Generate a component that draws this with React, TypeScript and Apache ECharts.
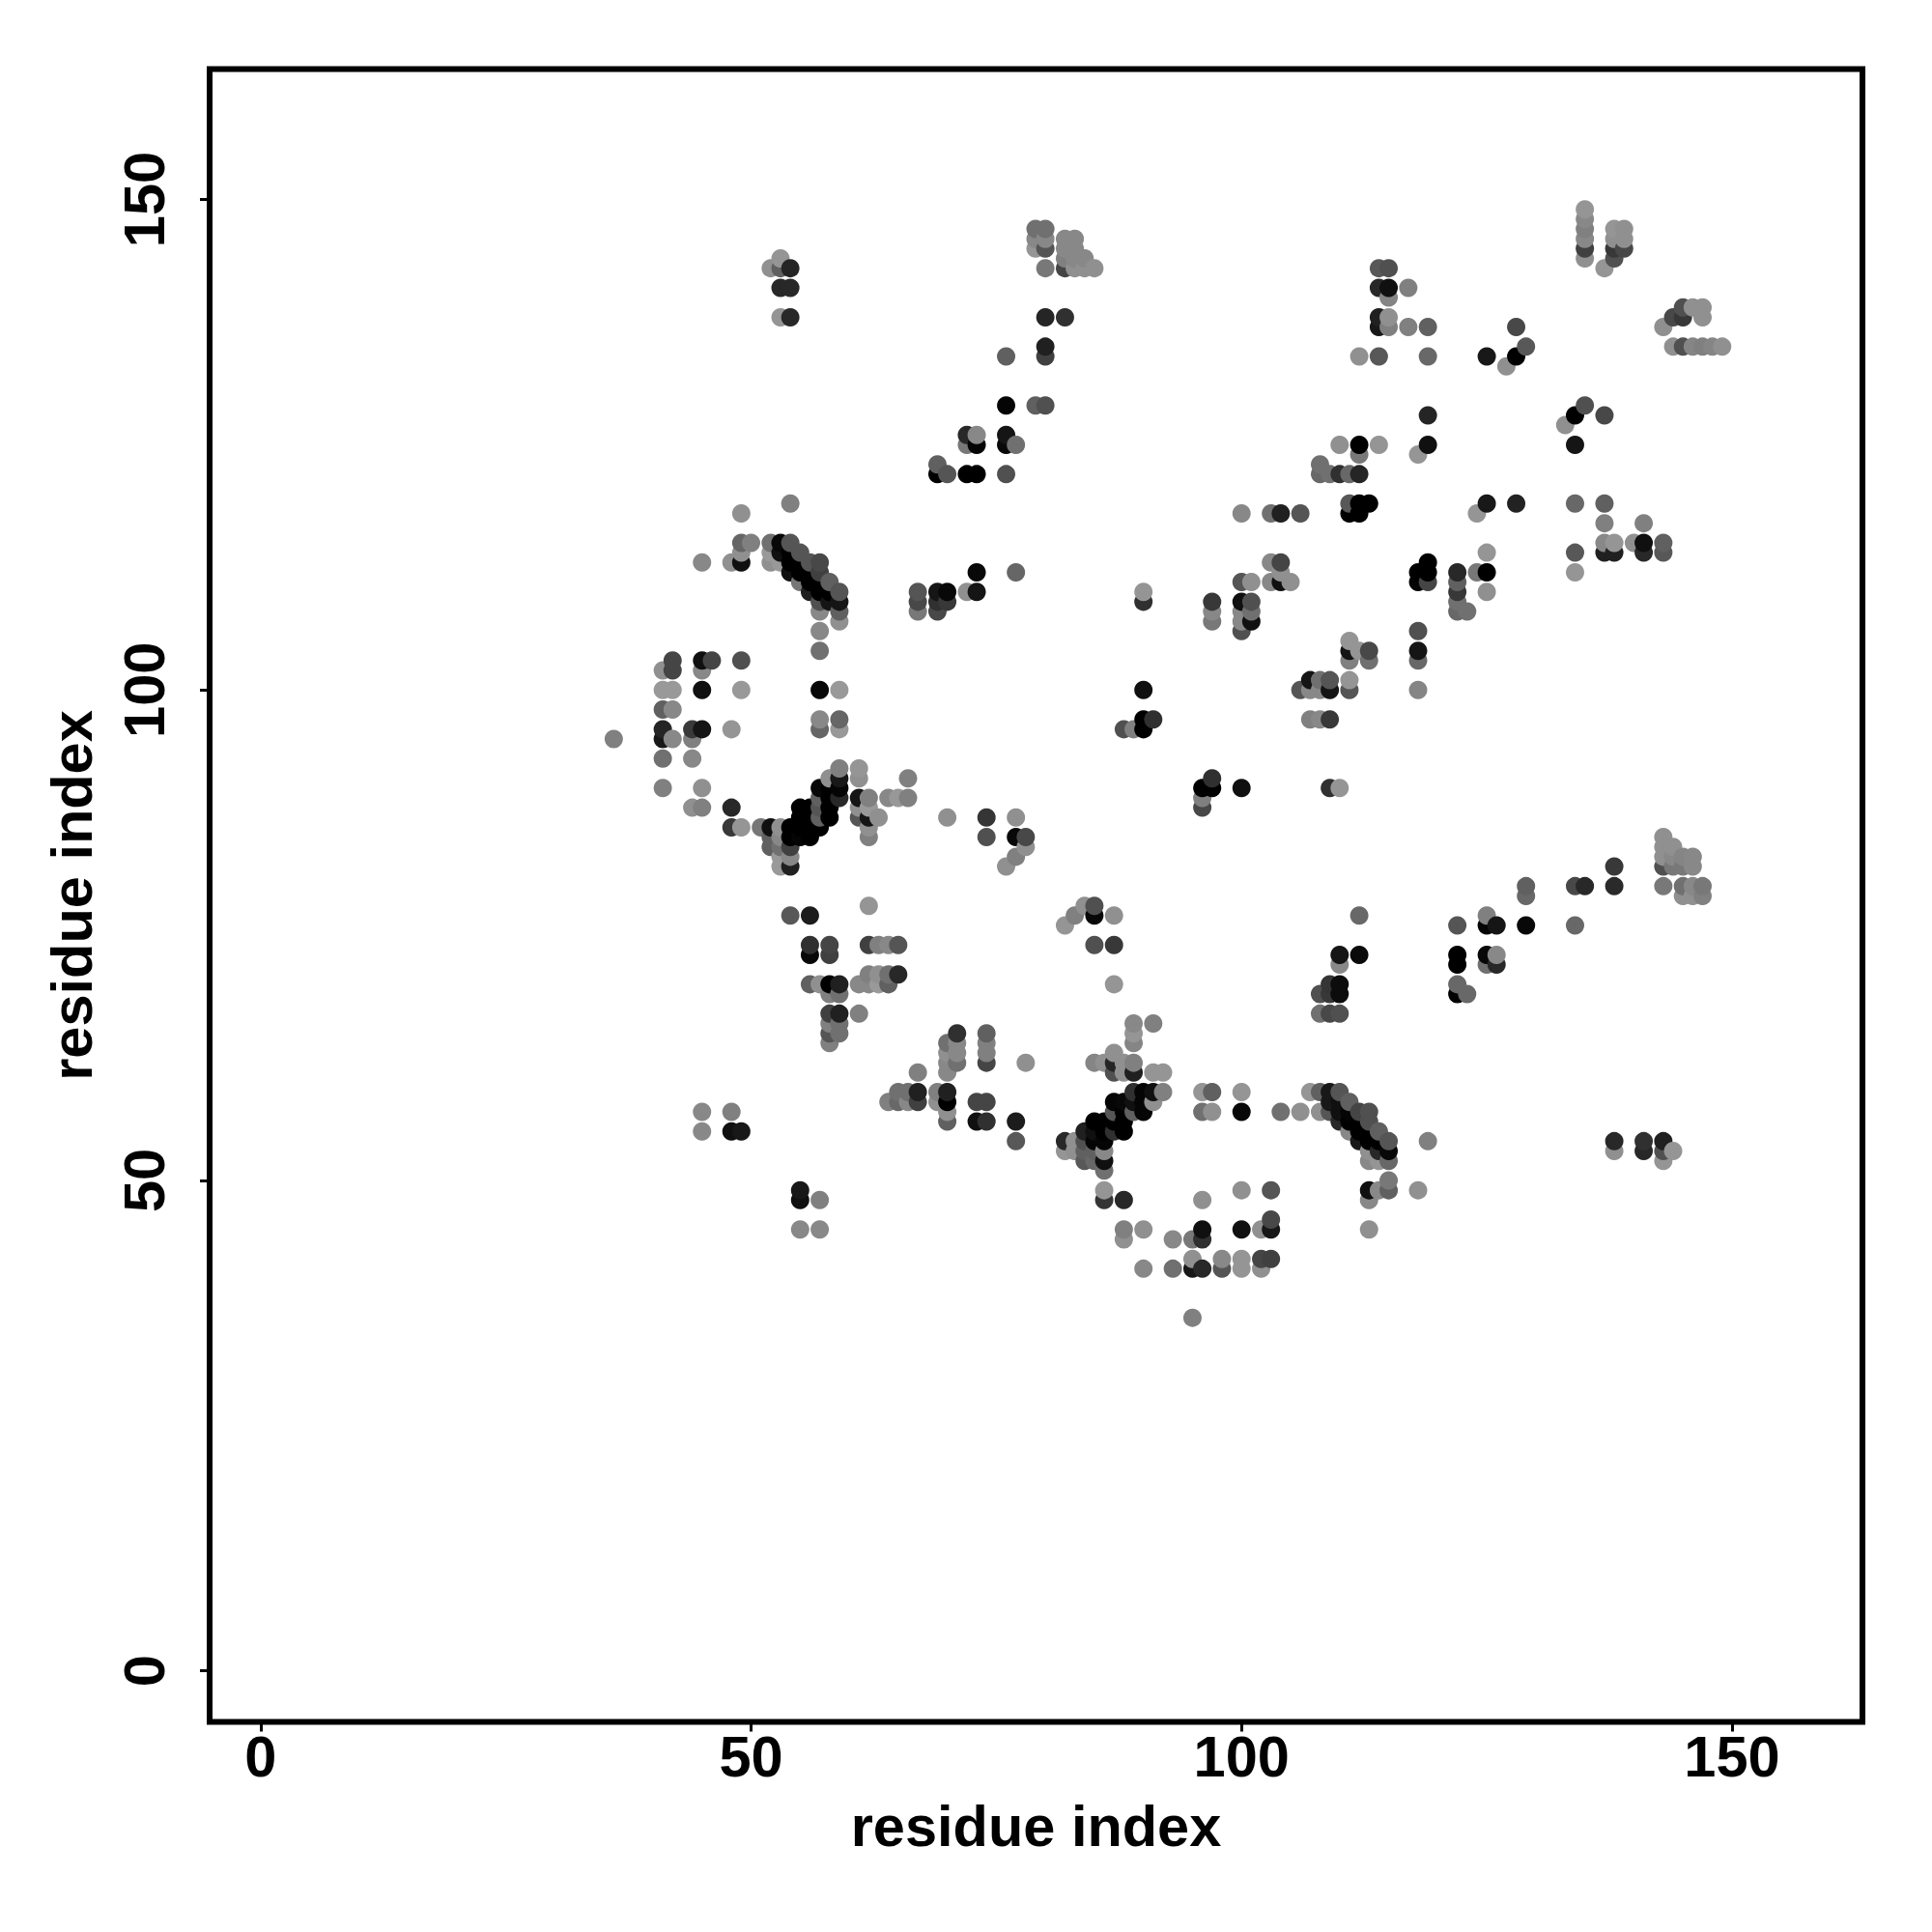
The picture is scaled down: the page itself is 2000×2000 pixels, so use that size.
import React, { useEffect, useRef } from "react";
import * as echarts from "echarts";

// [x residue, y residue, grey level]
const contacts: number[][] = [
  [36,95,0x80],[41,102,0x90],[41,100,0x99],[41,98,0x60],[41,96,0x25],[41,95,0x18],[41,93,0x70],[41,90,0x80],
  [42,103,0x45],[42,102,0x45],[42,100,0x99],[42,98,0x88],[42,95,0x88],
  [44,96,0x3a],[44,95,0x80],[44,93,0x88],[44,88,0x90],
  [45,113,0x88],[45,103,0x10],[45,102,0x88],[45,100,0x10],[45,96,0x15],[45,90,0x90],[45,88,0x80],[45,57,0x88],[45,55,0x88],
  [46,103,0x45],
  [48,113,0x90],[48,96,0x95],[48,88,0x28],[48,86,0x38],[48,57,0x80],[48,55,0x10],
  [49,118,0x90],[49,115,0x66],[49,114,0x90],[49,113,0x10],[49,103,0x50],[49,100,0x99],[49,86,0x95],[49,55,0x18],
  [50,115,0x80],
  [51,86,0x77],
  [52,143,0x90],[52,115,0x70],[52,114,0x99],[52,113,0x90],[52,86,0x10],[52,85,0x60],[52,84,0x60],
  [53,144,0x95],[53,143,0x60],[53,141,0x28],[53,138,0x95],[53,115,0x08],[53,114,0x10],[53,113,0x99],[53,86,0x90],[53,85,0x88],[53,84,0x70],[53,83,0x99],[53,82,0x99],
  [54,143,0x25],[54,141,0x28],[54,138,0x28],[54,119,0x80],[54,115,0x55],[54,114,0x00],[54,113,0x00],[54,112,0x10],[54,86,0x00],[54,85,0x00],[54,84,0x40],[54,83,0x88],[54,82,0x20],[54,77,0x58],
  [55,114,0x55],[55,113,0x00],[55,112,0x00],[55,111,0x77],[55,88,0x00],[55,87,0x00],[55,86,0x00],[55,85,0x05],[55,49,0x18],[55,48,0x10],[55,45,0x88],
  [56,113,0x55],[56,112,0x00],[56,111,0x00],[56,110,0x20],[56,88,0x00],[56,87,0x00],[56,86,0x00],[56,85,0x00],[56,77,0x1c],[56,74,0x30],[56,73,0x08],[56,70,0x60],
  [57,113,0x48],[57,112,0x40],[57,111,0x00],[57,110,0x00],[57,109,0x50],[57,108,0x88],[57,106,0x88],[57,104,0x70],[57,100,0x08],[57,97,0x88],[57,96,0x66],[57,90,0x08],[57,89,0x60],[57,88,0x55],[57,87,0x60],[57,86,0x00],[57,70,0x90],[57,48,0x80],[57,45,0x88],
  [58,111,0x60],[58,110,0x00],[58,109,0x15],[58,91,0x90],[58,90,0x00],[58,89,0x00],[58,88,0x00],[58,87,0x00],[58,74,0x45],[58,73,0x40],[58,70,0x00],[58,69,0x80],[58,67,0x40],[58,66,0x80],[58,65,0x55],[58,64,0x80],
  [59,110,0x55],[59,109,0x15],[59,108,0x60],[59,107,0x90],[59,100,0x99],[59,97,0x66],[59,96,0x99],[59,92,0x80],[59,91,0x18],[59,90,0x05],[59,89,0x28],[59,70,0x20],[59,69,0x70],[59,67,0x20],[59,66,0x70],[59,65,0x70],
  [61,92,0x95],[61,91,0x90],[61,89,0x15],[61,88,0x90],[61,87,0x55],[61,70,0x88],[61,67,0x80],
  [62,89,0x80],[62,88,0x99],[62,87,0x15],[62,86,0x90],[62,85,0x80],[62,78,0x95],[62,74,0x40],[62,71,0x80],[62,70,0x88],
  [63,87,0x90],[63,74,0x80],[63,71,0x90],[63,70,0x99],
  [64,89,0x88],[64,74,0x88],[64,71,0x70],[64,70,0x60],[64,58,0x80],
  [65,89,0x98],[65,74,0x55],[65,71,0x28],[65,59,0x70],[65,58,0x68],
  [66,91,0x80],[66,89,0x80],[66,59,0x70],[66,58,0x88],
  [67,110,0x55],[67,109,0x48],[67,108,0x78],[67,61,0x80],[67,59,0x20],[67,58,0x40],
  [69,123,0x60],[69,122,0x00],[69,110,0x15],[69,109,0x30],[69,108,0x48],[69,59,0x80],[69,58,0x90],
  [70,122,0x55],[70,110,0x08],[70,109,0x38],[70,87,0x90],[70,64,0x70],[70,63,0x90],[70,62,0x88],[70,61,0x88],[70,59,0x20],[70,58,0x00],[70,57,0x90],[70,56,0x60],
  [71,65,0x30],[71,64,0x88],[71,63,0x88],[71,62,0x70],
  [72,126,0x28],[72,125,0x78],[72,122,0x00],[72,110,0x90],
  [73,126,0x88],[73,125,0x05],[73,122,0x00],[73,112,0x08],[73,110,0x15],[73,58,0x45],[73,56,0x10],
  [74,87,0x35],[74,85,0x50],[74,65,0x60],[74,64,0x80],[74,63,0x80],[74,62,0x45],[74,58,0x45],[74,56,0x30],
  [76,134,0x60],[76,129,0x05],[76,126,0x15],[76,125,0x08],[76,122,0x50],[76,82,0x90],
  [77,125,0x70],[77,112,0x66],[77,87,0x90],[77,85,0x08],[77,83,0x80],[77,56,0x1c],[77,54,0x58],
  [78,85,0x48],[78,84,0x90],[78,62,0x90],
  [79,147,0x70],[79,146,0x88],[79,145,0x95],[79,129,0x60],
  [80,147,0x70],[80,146,0x88],[80,145,0x55],[80,143,0x78],[80,138,0x25],[80,135,0x20],[80,134,0x40],[80,129,0x50],
  [82,146,0x88],[82,145,0x88],[82,144,0x80],[82,143,0x45],[82,138,0x30],[82,76,0x95],[82,54,0x28],[82,53,0x95],
  [83,146,0x88],[83,145,0x88],[83,144,0x88],[83,143,0x90],[83,77,0x80],[83,54,0x90],[83,53,0x90],
  [84,144,0x88],[84,143,0x90],[84,78,0x90],[84,55,0x20],[84,54,0x50],[84,53,0x60],[84,52,0x58],
  [85,143,0x90],[85,78,0x50],[85,77,0x08],[85,74,0x50],[85,62,0x85],[85,56,0x00],[85,55,0x10],[85,54,0x05],[85,53,0x60],[85,52,0x68],
  [86,62,0x90],[86,56,0x00],[86,55,0x00],[86,54,0x05],[86,53,0x88],[86,52,0x10],[86,51,0x70],[86,49,0x95],[86,48,0x35],
  [87,77,0x90],[87,74,0x38],[87,70,0x95],[87,63,0x90],[87,62,0x25],[87,61,0x50],[87,58,0x05],[87,57,0x55],[87,56,0x00],[87,55,0x30],
  [88,96,0x50],[88,62,0x90],[88,61,0x90],[88,58,0x08],[88,57,0x00],[88,56,0x00],[88,55,0x00],[88,48,0x28],[88,45,0x80],[88,44,0x90],
  [89,96,0x80],[89,66,0x88],[89,65,0x95],[89,64,0x85],[89,62,0x80],[89,61,0x20],[89,59,0x30],[89,58,0x10],[89,57,0x60],
  [90,110,0x95],[90,109,0x30],[90,100,0x10],[90,97,0x00],[90,96,0x00],[90,59,0x05],[90,58,0x05],[90,57,0x05],[90,45,0x90],[90,41,0x88],
  [91,97,0x30],[91,66,0x80],[91,61,0x95],[91,59,0x10],[91,58,0x90],
  [92,61,0x95],[92,59,0x80],
  [93,44,0x88],[93,41,0x70],
  [95,44,0x78],[95,42,0x90],[95,41,0x18],[95,36,0x80],
  [96,90,0x00],[96,89,0x80],[96,88,0x48],[96,59,0x95],[96,57,0x70],[96,48,0x90],[96,45,0x10],[96,44,0x30],[96,41,0x28],
  [97,109,0x38],[97,108,0x88],[97,107,0x78],[97,91,0x30],[97,90,0x00],[97,59,0x60],[97,57,0x90],
  [98,42,0x88],[98,41,0x55],
  [100,118,0x88],[100,111,0x55],[100,109,0x10],[100,108,0x88],[100,107,0x88],[100,106,0x50],[100,90,0x10],[100,59,0x95],[100,57,0x08],[100,49,0x90],[100,45,0x10],[100,42,0x95],[100,41,0x95],
  [101,111,0x90],[101,109,0x50],[101,108,0x70],[101,107,0x10],
  [102,45,0x90],[102,42,0x45],[102,41,0x90],
  [103,118,0x70],[103,113,0x88],[103,111,0x88],[103,49,0x55],[103,46,0x48],[103,45,0x18],[103,42,0x40],
  [104,118,0x20],[104,113,0x45],[104,112,0x90],[104,111,0x10],[104,57,0x70],
  [105,111,0x90],
  [106,118,0x55],[106,100,0x55],[106,57,0x90],
  [107,101,0x15],[107,100,0x88],[107,97,0x80],[107,59,0x95],
  [108,123,0x70],[108,122,0x68],[108,101,0x70],[108,100,0x88],[108,97,0x88],[108,69,0x50],[108,67,0x70],[108,59,0x60],[108,57,0x90],
  [109,122,0x70],[109,101,0x55],[109,100,0x15],[109,97,0x38],[109,90,0x30],[109,70,0x35],[109,69,0x38],[109,67,0x48],[109,59,0x18],[109,58,0x18],[109,57,0x55],
  [110,125,0x90],[110,122,0x30],[110,90,0x95],[110,73,0x15],[110,72,0x88],[110,70,0x0c],[110,69,0x0c],[110,67,0x50],[110,59,0x55],[110,58,0x10],[110,57,0x10],[110,56,0x28],
  [111,122,0x68],[111,119,0x58],[111,118,0x00],[111,105,0x95],[111,104,0x15],[111,103,0x80],[111,101,0x95],[111,100,0x55],[111,58,0x60],[111,57,0x05],[111,56,0x00],[111,55,0x88],
  [112,134,0x90],[112,125,0x00],[112,124,0x78],[112,122,0x25],[112,119,0x00],[112,118,0x00],[112,104,0x95],[112,77,0x68],[112,73,0x0a],[112,57,0x45],[112,56,0x00],[112,55,0x00],[112,54,0x18],
  [113,119,0x00],[113,104,0x48],[113,103,0x70],[113,57,0x50],[113,56,0x50],[113,55,0x00],[113,54,0x00],[113,53,0x90],[113,52,0x88],[113,49,0x10],[113,48,0x88],[113,45,0x90],
  [114,143,0x58],[114,141,0x28],[114,138,0x20],[114,137,0x18],[114,134,0x58],[114,125,0x95],[114,55,0x60],[114,54,0x00],[114,53,0x28],[114,52,0x95],[114,49,0x88],
  [115,143,0x50],[115,141,0x10],[115,140,0x85],[115,138,0x90],[115,137,0x80],[115,54,0x55],[115,53,0x08],[115,52,0x68],[115,50,0x78],[115,49,0x60],
  [117,141,0x80],[117,137,0x80],
  [118,124,0x95],[118,112,0x00],[118,111,0x05],[118,106,0x50],[118,104,0x15],[118,103,0x68],[118,100,0x85],[118,49,0x90],
  [119,137,0x60],[119,134,0x68],[119,128,0x25],[119,125,0x10],[119,113,0x00],[119,112,0x00],[119,111,0x45],[119,54,0x80],
  [122,112,0x28],[122,111,0x60],[122,110,0x38],[122,109,0x70],[122,108,0x68],[122,76,0x55],[122,73,0x00],[122,72,0x00],[122,70,0x68],[122,69,0x00],
  [123,108,0x70],[123,69,0x68],
  [124,118,0x95],[124,112,0x78],
  [125,134,0x18],[125,119,0x18],[125,114,0x95],[125,112,0x00],[125,110,0x90],[125,77,0x80],[125,76,0x05],[125,73,0x08],[125,72,0x70],
  [126,76,0x15],[126,73,0x88],[126,72,0x28],
  [127,133,0x90],
  [128,137,0x48],[128,134,0x00],[128,119,0x22],
  [129,135,0x58],[129,80,0x60],[129,79,0x68],[129,76,0x08],
  [133,127,0x90],
  [134,128,0x00],[134,125,0x15],[134,119,0x68],[134,114,0x58],[134,112,0x95],[134,80,0x48],[134,76,0x68],
  [135,149,0x95],[135,148,0x88],[135,147,0x80],[135,146,0x88],[135,145,0x40],[135,144,0x90],[135,129,0x50],[135,80,0x28],
  [137,143,0x95],[137,128,0x48],[137,119,0x60],[137,117,0x80],[137,115,0x88],[137,114,0x20],
  [138,147,0x95],[138,146,0x90],[138,145,0x38],[138,144,0x50],[138,115,0x95],[138,114,0x20],[138,82,0x38],[138,80,0x2a],[138,54,0x28],[138,53,0x90],
  [139,147,0x90],[139,146,0x90],[139,145,0x48],
  [140,115,0x90],
  [141,117,0x80],[141,115,0x10],[141,114,0x28],[141,54,0x30],[141,53,0x28],
  [143,137,0x90],[143,115,0x60],[143,114,0x58],[143,85,0x90],[143,84,0x90],[143,83,0x90],[143,82,0x50],[143,80,0x78],[143,54,0x20],[143,53,0x50],[143,52,0x95],
  [144,138,0x48],[144,135,0x90],[144,84,0x90],[144,83,0x88],[144,82,0x78],[144,53,0x95],
  [145,139,0x50],[145,138,0x38],[145,135,0x50],[145,83,0x85],[145,82,0x78],[145,80,0x70],[145,79,0x90],
  [146,139,0x90],[146,135,0x85],[146,83,0x88],[146,82,0x88],[146,80,0x88],[146,79,0x90],
  [147,139,0x90],[147,138,0x90],[147,135,0x80],[147,80,0x78],[147,79,0x80],
  [148,135,0x85],
  [149,135,0x90],
];

const tickValues = [0, 50, 100, 150];
const axisTitle = "residue index";

const grey = (g: number) => `rgb(${g},${g},${g})`;

export default function App() {
  const ref = useRef<HTMLDivElement>(null);
  useEffect(() => {
    const chart = echarts.init(ref.current!, undefined, { renderer: "svg" });
    const sorted = [...contacts].sort((a, b) => a[0] - b[0] || a[1] - b[1]);
    const axisBase = (gap: number) => ({
      type: "value" as const,
      min: -5.2,
      max: 163.3,
      name: axisTitle,
      nameLocation: "middle" as const,
      nameGap: gap,
      nameTextStyle: { fontFamily: "Liberation Sans", fontWeight: "bold" as const, fontSize: 59.5, color: "#000" },
      axisLine: { show: false, onZero: false },
      axisTick: { show: true, length: 10, customValues: tickValues, lineStyle: { color: "#000", width: 3 } },
      splitLine: { show: false },
    });
    chart.setOption({
      animation: false,
      backgroundColor: "#fff",
      grid: { left: 217, top: 71.5, width: 1711, height: 1711, show: true, borderColor: "#000", borderWidth: 6, backgroundColor: "#fff" },
      xAxis: {
        ...axisBase(78),
        axisLabel: { customValues: tickValues, margin: 6, fontFamily: "Liberation Sans", fontWeight: "bold", fontSize: 59.5, color: "#000" },
      },
      yAxis: {
        ...axisBase(113),
        nameRotate: 90,
        axisLabel: { customValues: tickValues, rotate: 90, margin: 68, fontFamily: "Liberation Sans", fontWeight: "bold", fontSize: 59.5, color: "#000", align: "center", verticalAlign: "middle" },
      },
      series: [
        {
          type: "scatter",
          symbol: "circle",
          symbolSize: 19,
          silent: true,
          data: sorted.map(([x, y, g]) => ({ value: [x, y], itemStyle: { color: grey(g), opacity: 1 } })),
        },
      ],
    });
    return () => chart.dispose();
  }, []);
  return <div ref={ref} style={{ position: "absolute", left: 0, top: 0, width: 2000, height: 2000 }} />;
}
